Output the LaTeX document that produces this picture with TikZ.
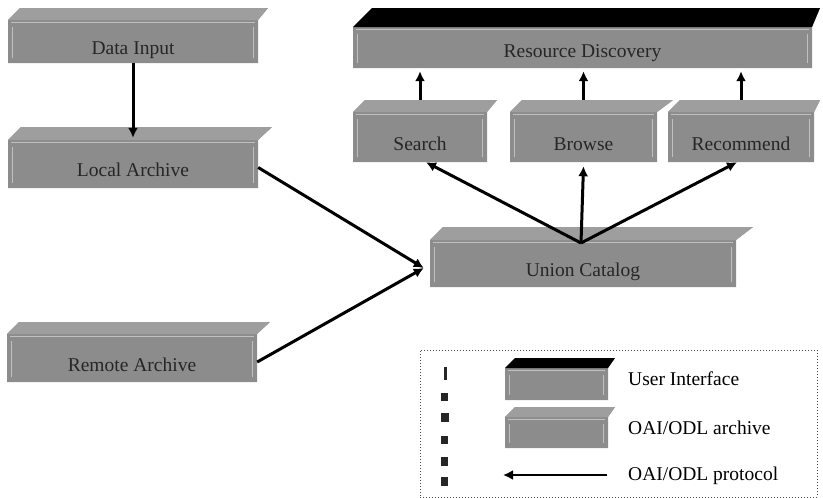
\documentclass[tikz,border=0pt]{standalone}
\usepackage{fontspec}
\setmainfont{Liberation Serif}
\usetikzlibrary{arrows.meta}
\definecolor{slabgray}{RGB}{140,140,140}
\definecolor{slabtop}{RGB}{158,158,158}
\definecolor{slabline}{RGB}{192,192,192}
% bevelled block: x1, y1, x2, y2 of the front, depth of the top face,
% overhang of the top face to the right, colour of the top face
\newcommand\slab[7]{%
  \fill[slabgray] (#1,#2+#5) -- (#1+#5,#2) -- (#3+#6,#2) -- (#3,#2+#5) -- (#3,#4) -- (#1,#4) -- cycle;
  \fill[#7] (#1,#2+#5) -- (#1+#5,#2) -- (#3+#6,#2) -- (#3,#2+#5) -- cycle;
  \draw[slabline, line width=0.6pt] (#1+3,#2+#5+2) -- (#3-3,#2+#5+2);
  \draw[slabline, line width=0.6pt] (#1+4,#2+#5+7) -- (#1+4,#4-5) (#3-5,#2+#5+7) -- (#3-5,#4-5);
}
\tikzset{
  block/.style={inner sep=0pt, text height=38pt, text depth=0pt,
    font=\fontsize{19.5}{22}\selectfont, text=black!85},
  link/.style={line width=3pt, -{Latex[length=10pt,width=10pt]}},
  legendtext/.style={anchor=west, inner sep=0pt, font=\fontsize{19.5}{22}\selectfont},
  glyph/.style={fill=black!85},
}
\begin{document}
\begin{tikzpicture}[x=1pt, y=-1pt]
\useasboundingbox (0,0) rectangle (823,498);

% blocks
\slab{8}{8}{258}{63}{12}{10}{slabtop}
\slab{8}{127}{258}{188}{13}{14}{slabtop}
\slab{7}{322}{257}{382}{12}{13}{slabtop}
\slab{353}{8}{812}{68}{19}{8}{black}
\slab{353}{100}{487}{162}{12}{10}{slabtop}
\slab{510}{100}{657}{162}{12}{16}{slabtop}
\slab{668}{100}{814}{162}{12}{6}{slabtop}
\slab{430}{227}{736}{287}{13}{17}{slabtop}

\node[block, minimum width=250pt, minimum height=55pt] (datainput) at (133,35.5) {Data Input};
\node[block, minimum width=250pt, minimum height=61pt] (localarchive) at (133,157.5) {Local Archive};
\node[block, minimum width=250pt, minimum height=60pt] (remote) at (132,352) {Remote Archive};
\node[block, minimum width=459pt, minimum height=60pt] (rd) at (582.5,38) {Resource Discovery};
\node[block, minimum width=134pt, minimum height=62pt] (search) at (420,131) {Search};
\node[block, minimum width=147pt, minimum height=62pt] (browse) at (583.5,131) {Browse};
\node[block, minimum width=146pt, minimum height=62pt] (recommend) at (741,131) {Recommend};
\node[block, minimum width=306pt, minimum height=60pt] (union) at (583,257) {Union Catalog};

% connectors
\draw[link] (datainput.south) -- ([yshift=-11pt]localarchive.north);
\draw[link] (search.north) -- ([yshift=-3pt]rd.south -| search.north);
\draw[link] (browse.north) -- ([yshift=-3pt]rd.south -| browse.north);
\draw[link] (recommend.north) -- ([yshift=-3pt]rd.south -| recommend.north);
\coordinate (hub) at (581,243);
\draw[link] (hub) -- ([xshift=6pt]search.south);
\draw[link] (hub) -- ([yshift=-4pt]browse.south);
\draw[link] (hub) -- ([xshift=-4pt]recommend.south);
\coordinate (unionin) at ([xshift=-6pt,yshift=-11pt]union.west);
\draw[link] ([yshift=-10pt]localarchive.east) -- (unionin);
\draw[link] ([yshift=-10pt]remote.east) -- (unionin);

% legend
\node[draw=black!70, dotted, line width=1pt, minimum width=397pt, minimum height=147pt,
  inner sep=0pt] (legend) at (618.5,423.5) {};
\slab{505}{358}{608}{400}{10}{7}{black}
\slab{505}{407}{608}{448}{10}{7}{slabtop}
\node[legendtext] (uilabel) at (628,379) {User Interface};
\node[legendtext] (archlabel) at (628,428) {OAI/ODL archive};
\node[legendtext] (protolabel) at (628,476) {OAI/ODL protocol};
\coordinate (ptail) at (607,475);
\coordinate (phead) at (503,475);
\draw[link, line width=2.4pt] (ptail) -- (phead);

% column of small marks at the legend's left
\fill[glyph] (443.5,367) rectangle (446.5,380);
\fill[glyph] (441,393) rectangle (448,401);
\fill[glyph] (441,413) rectangle (449,422);
\fill[glyph] (441,436) rectangle (448,444);
\fill[glyph] (441,457) rectangle (448,466);
\fill[glyph] (441,477) rectangle (448,486);
\end{tikzpicture}
\end{document}
